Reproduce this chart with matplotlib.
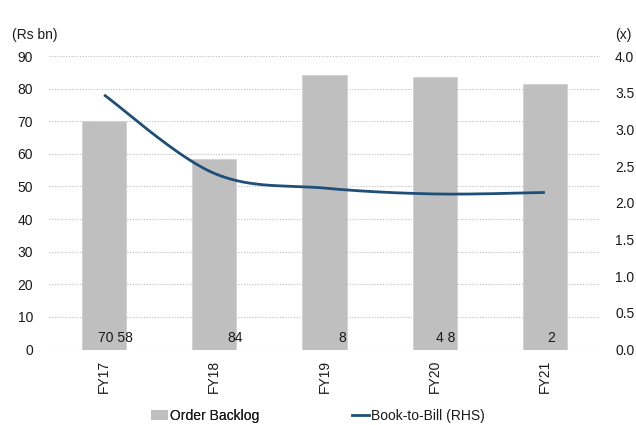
import numpy as np
import matplotlib
matplotlib.use("Agg")
import matplotlib.pyplot as plt
from matplotlib.lines import Line2D
from matplotlib.patches import Patch

plt.rcParams['font.family'] = ['Liberation Sans', 'DejaVu Sans']

# Data
years = ["FY17", "FY18", "FY19", "FY20", "FY21"]
order_backlog = [70.0, 58.3, 84.2, 83.5, 81.4]          # Rs bn
book_to_bill = [3.47, 2.40, 2.20, 2.12, 2.14]           # x
bar_labels = ["70 58", "84", "8", "4 8", "2"]
left_ticks = [0, 10, 20, 30, 40, 50, 60, 70, 80, 90]
right_ticks = [0.0, 0.5, 1.0, 1.5, 2.0, 2.5, 3.0, 3.5, 4.0]

# label anchor (right edge) relative to each category position
label_dx = [0.263, 0.26, 0.194, 0.19, 0.089]

BAR_COLOR = "#BFBFBF"
LINE_COLOR = "#1F4E79"
TEXT_COLOR = "#1a1a1a"
FS = 10


def smooth(xs, ys, n=40):
    """Catmull-Rom style cubic Bezier smoothing through the points."""
    xs = np.asarray(xs, float)
    ys = np.asarray(ys, float)
    P = np.column_stack([xs, ys])
    Pp = np.vstack([P[0], P, P[-1]])
    out = []
    t = np.linspace(0, 1, n)[:, None]
    for i in range(len(P) - 1):
        p0, p1, p2, p3 = Pp[i], Pp[i + 1], Pp[i + 2], Pp[i + 3]
        c1 = p1 + (p2 - p0) / 6.0
        c2 = p2 - (p3 - p1) / 6.0
        seg = ((1 - t) ** 3) * p1 + 3 * ((1 - t) ** 2) * t * c1 + 3 * (1 - t) * t ** 2 * c2 + t ** 3 * p2
        out.append(seg if i == 0 else seg[1:])
    pts = np.vstack(out)
    return pts[:, 0], pts[:, 1]


fig = plt.figure(figsize=(6.36, 4.25), dpi=100)
ax = fig.add_axes([49 / 636, 1 - 349.5 / 425, 551 / 636, 293.5 / 425])
ax2 = ax.twinx()

x = np.arange(len(years))

# gridlines
for v in left_ticks:
    ax.axhline(v, color="#BDBDBD", lw=0.8, ls=(0, (1, 1.5)), zorder=0)

ax.bar(x, order_backlog, width=0.4, color=BAR_COLOR, edgecolor="#D0D0D0", linewidth=0.6, zorder=2)

for xi, lab, dx in zip(x, bar_labels, label_dx):
    ax.text(xi + dx, 2.4, lab, ha="right", va="baseline", fontsize=FS, color=TEXT_COLOR, zorder=3)

sx, sy = smooth(x, book_to_bill)
ax2.plot(sx, sy, color=LINE_COLOR, lw=2.0, solid_capstyle="butt", zorder=4)

ax.set_xlim(-0.5, len(years) - 0.5)
ax.set_ylim(0, 90)
ax2.set_ylim(0, 4)

ax.set_yticks(left_ticks)
ax.set_yticklabels([str(v) for v in left_ticks])
ax2.set_yticks(right_ticks)
ax2.set_yticklabels([f"{v:.1f}" for v in right_ticks])
ax.set_xticks(x)
ax.set_xticklabels(years, rotation=90)

for a in (ax, ax2):
    for s in a.spines.values():
        s.set_visible(False)
    a.tick_params(length=0, labelsize=FS, colors=TEXT_COLOR)
ax.tick_params(axis="y", pad=11.5)
ax2.tick_params(axis="y", pad=10.8)
ax.tick_params(axis="x", pad=7.5)

fig.text(12 / 636, 1 - 35 / 425, "(Rs bn)", fontsize=FS, color=TEXT_COLOR, ha="left", va="center")
fig.text(615 / 636, 1 - 35 / 425, "(x)", fontsize=FS, color=TEXT_COLOR, ha="left", va="center")

legend_kw = dict(frameon=False, fontsize=FS, handlelength=1.25, handleheight=0.75,
                 handletextpad=0.15, borderpad=0, borderaxespad=0, labelcolor=TEXT_COLOR)
leg1 = fig.legend([Patch(facecolor=BAR_COLOR, edgecolor="none")], ["Order Backlog"],
                  loc="center left", bbox_to_anchor=(151 / 636, 1 - 416 / 425), **legend_kw)
fig.add_artist(leg1)
fig.legend([Line2D([0], [0], color=LINE_COLOR, lw=2.0)], ["Book-to-Bill (RHS)"],
           loc="center left", bbox_to_anchor=(352 / 636, 1 - 416 / 425), **legend_kw)

fig.savefig("out.png", dpi=100)
